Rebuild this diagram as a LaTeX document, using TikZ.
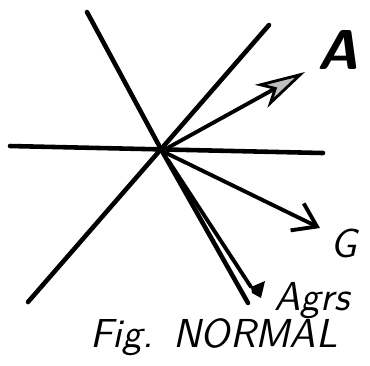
\documentclass[tikz,border=0pt]{standalone}
\usepackage{tikz}
\usetikzlibrary{arrows.meta}

\begin{document}
\begin{tikzpicture}[x=0.1mm,y=-0.1mm,line width=1.3pt,line cap=round,line join=round,
  hand/.style={font=\fontsize{11.5}{13}\sffamily\itshape},
  vec/.style={line width=1.1pt}]
\useasboundingbox (0,0) rectangle (370,365);
% lines through the origin
\coordinate (O) at (162,151);
\coordinate (h1) at (10,146);
\coordinate (h2) at (323,153);
\coordinate (u1) at (87,12);
\coordinate (d1) at (28,302);
\coordinate (d2) at (269,25);
\draw (h1) -- (h2);
\draw (d1) -- (d2);
% vector tips
\coordinate (Atip) at (305,72);
\coordinate (Gtip) at (320,228);
\coordinate (Lend) at (248,303);
\coordinate (R0) at (168,160);
\coordinate (Rend) at (251,287);
% labels
\node[hand,font=\fontsize{16}{18}\sffamily\itshape\bfseries] (lA) at (338,50) {A};
\node[hand] (lG) at (344,243) {G};
\node[hand] (lAgrs) at (312,301) {Agrs};
\node[hand,anchor=base] (cap) at (214,347) {Fig.\enspace NORMAL};
% vectors
\draw[vec,-{Stealth[length=5mm,width=2.6mm,inset=1.4mm,fill=gray!50,line width=0.8pt]}] (O) -- (Atip);
\draw[vec,-{Straight Barb[length=2.2mm,width=3mm]}] (O) -- (Gtip);
\fill[gray!60] (O) -- (187,196) -- (191,196) -- (R0) -- cycle;
\draw (u1) -- (O) -- (Lend);
\draw[vec] (R0) -- (Rend);
\fill (Rend) -- (265,281) -- (261,298) -- (252,293) -- cycle;
\end{tikzpicture}
\end{document}
